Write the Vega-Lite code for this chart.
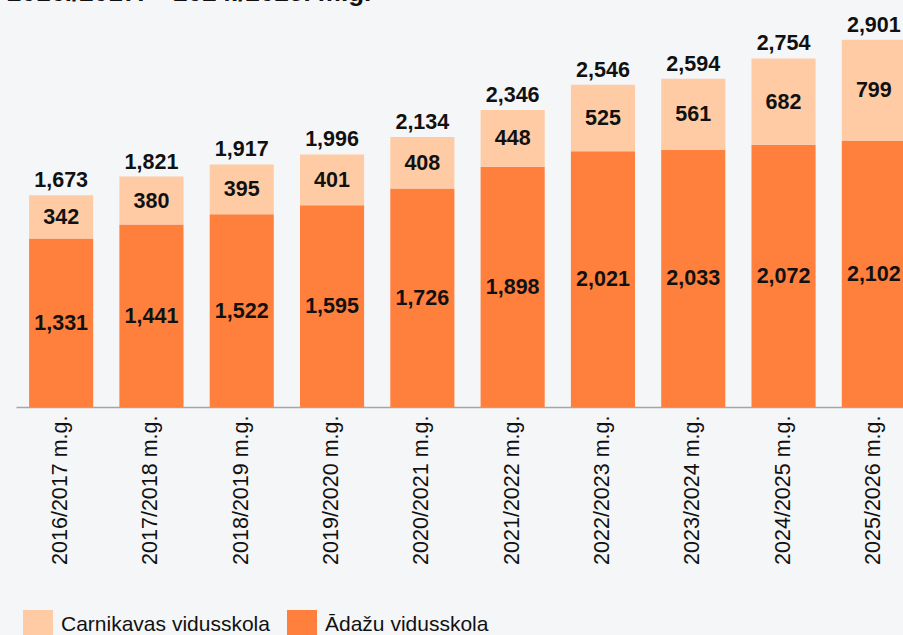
{
  "$schema": "https://vega.github.io/schema/vega-lite/v6.json",
  "width": 903,
  "height": 405,
  "autosize": "none",
  "padding": {"left": 16, "top": 2, "right": 0, "bottom": 228},
  "background": "#f5f6f8",
  "title": {"text": "2016./2017. – 2024./2025. m.g.", "anchor": "start", "fontSize": 26, "font": "Liberation Sans", "fontWeight": "bold", "color": "#111111", "offset": 0, "baseline": "alphabetic", "dx": -9, "dy": 25},
  "config": {"view": {"stroke": null}, "font": "Liberation Sans"},
  "data": {"values": [
    {"year": "2016/2017 m.g.", "school": "Ādažu vidusskola", "ord": 1, "value": 1331},
    {"year": "2016/2017 m.g.", "school": "Carnikavas vidusskola", "ord": 2, "value": 342},
    {"year": "2017/2018 m.g.", "school": "Ādažu vidusskola", "ord": 1, "value": 1441},
    {"year": "2017/2018 m.g.", "school": "Carnikavas vidusskola", "ord": 2, "value": 380},
    {"year": "2018/2019 m.g.", "school": "Ādažu vidusskola", "ord": 1, "value": 1522},
    {"year": "2018/2019 m.g.", "school": "Carnikavas vidusskola", "ord": 2, "value": 395},
    {"year": "2019/2020 m.g.", "school": "Ādažu vidusskola", "ord": 1, "value": 1595},
    {"year": "2019/2020 m.g.", "school": "Carnikavas vidusskola", "ord": 2, "value": 401},
    {"year": "2020/2021 m.g.", "school": "Ādažu vidusskola", "ord": 1, "value": 1726},
    {"year": "2020/2021 m.g.", "school": "Carnikavas vidusskola", "ord": 2, "value": 408},
    {"year": "2021/2022 m.g.", "school": "Ādažu vidusskola", "ord": 1, "value": 1898},
    {"year": "2021/2022 m.g.", "school": "Carnikavas vidusskola", "ord": 2, "value": 448},
    {"year": "2022/2023 m.g.", "school": "Ādažu vidusskola", "ord": 1, "value": 2021},
    {"year": "2022/2023 m.g.", "school": "Carnikavas vidusskola", "ord": 2, "value": 525},
    {"year": "2023/2024 m.g.", "school": "Ādažu vidusskola", "ord": 1, "value": 2033},
    {"year": "2023/2024 m.g.", "school": "Carnikavas vidusskola", "ord": 2, "value": 561},
    {"year": "2024/2025 m.g.", "school": "Ādažu vidusskola", "ord": 1, "value": 2072},
    {"year": "2024/2025 m.g.", "school": "Carnikavas vidusskola", "ord": 2, "value": 682},
    {"year": "2025/2026 m.g.", "school": "Ādažu vidusskola", "ord": 1, "value": 2102},
    {"year": "2025/2026 m.g.", "school": "Carnikavas vidusskola", "ord": 2, "value": 799}
  ]},
  "encoding": {
    "x": {"field": "year", "type": "nominal", "sort": null,
      "scale": {"paddingInner": 0.29, "paddingOuter": 0.145},
      "axis": {"title": null, "labelAngle": -90, "labelFontSize": 21.5, "labelColor": "#111111", "labelPadding": 8, "ticks": false, "domainColor": "#a6a6a6", "domainWidth": 1.5, "labelFont": "Liberation Sans"}}
  },
  "layer": [
    {
      "mark": {"type": "bar"},
      "encoding": {
        "y": {"field": "value", "type": "quantitative", "stack": "zero", "scale": {"domain": [0, 3200]}, "axis": null},
        "color": {"field": "school", "type": "nominal",
          "scale": {"domain": ["Carnikavas vidusskola", "Ādažu vidusskola"], "range": ["#ffcba4", "#ff7f3d"]},
          "legend": {"title": null, "orient": "none", "direction": "horizontal", "legendX": 7, "legendY": 608, "symbolType": "square", "symbolSize": 900, "symbolStrokeWidth": 0, "symbolOpacity": 1, "labelFontSize": 21, "labelColor": "#111111", "labelFont": "Liberation Sans", "columnPadding": 17, "labelOffset": 8, "labelLimit": 400}},
        "order": {"field": "ord", "type": "quantitative"}
      }
    },
    {
      "transform": [
        {"stack": "value", "groupby": ["year"], "sort": [{"field": "ord"}], "as": ["v0", "v1"]},
        {"calculate": "(datum.v0 + datum.v1) / 2", "as": "mid"}
      ],
      "mark": {"type": "text", "fontSize": 21.5, "fontWeight": "bold", "color": "#111111", "baseline": "middle", "dy": 1},
      "encoding": {
        "y": {"field": "mid", "type": "quantitative", "scale": {"domain": [0, 3200]}},
        "text": {"field": "value", "type": "quantitative", "format": ","}
      }
    },
    {
      "transform": [
        {"aggregate": [{"op": "sum", "field": "value", "as": "total"}], "groupby": ["year"]}
      ],
      "mark": {"type": "text", "fontSize": 21.5, "fontWeight": "bold", "color": "#111111", "baseline": "alphabetic", "dy": -8},
      "encoding": {
        "y": {"field": "total", "type": "quantitative", "scale": {"domain": [0, 3200]}},
        "text": {"field": "total", "type": "quantitative", "format": ","}
      }
    }
  ]
}
